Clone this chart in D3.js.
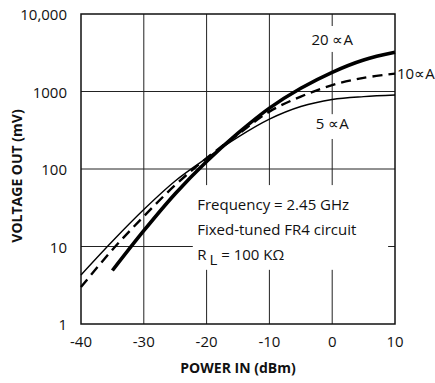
<!DOCTYPE html>
<html>
<head>
<meta charset="utf-8">
<script src="https://cdn.jsdelivr.net/npm/d3@7"></script>
<style>
  body { margin: 0; background: #fff; }
  text { font-family: "Open Sans", sans-serif; fill: #111; }
</style>
</head>
<body>
<div id="chart"></div>
<script>
// power in (dBm) for each series
var power = [-40, -35, -30, -25, -20, -15, -10, -5, 0, 5, 10];
var power20 = [-35, -30, -25, -20, -15, -10, -5, 0, 5, 10];

// voltage out (mV)
var bias5 = [4.3, 11.7, 30, 70, 138, 258, 440, 640, 790, 860, 900];
var bias10 = [3.0, 9.1, 24.5, 62, 138, 280, 550, 860, 1210, 1500, 1700];
var bias20 = [4.9, 16, 48, 125, 290, 610, 1100, 1770, 2550, 3200];

var xTicks = [-40, -30, -20, -10, 0, 10];
var yTicks = [1, 10, 100, 1000, 10000];
var yTickLabels = ["1", "10", "100", "1000", "10,000"];

var notes = ["Frequency = 2.45 GHz", "Fixed-tuned FR4 circuit"];

var width = 435, height = 383;
var margin = { top: 14, right: 40, bottom: 59, left: 81 };

var svg = d3.select("#chart").append("svg")
    .attr("width", width)
    .attr("height", height);

var x = d3.scaleLinear()
    .domain([-40, 10])
    .range([margin.left, width - margin.right]);

var y = d3.scaleLog()
    .domain([1, 10000])
    .range([height - margin.bottom, margin.top]);

// grid
var grid = svg.append("g").attr("stroke", "#222").attr("stroke-width", 1);
grid.selectAll(".vg")
    .data(xTicks.slice(1, -1))
    .enter().append("line")
    .attr("x1", d => x(d)).attr("x2", d => x(d))
    .attr("y1", y(10000)).attr("y2", y(1));
grid.selectAll(".hg")
    .data(yTicks.slice(1, -1))
    .enter().append("line")
    .attr("x1", x(-40)).attr("x2", x(10))
    .attr("y1", d => y(d)).attr("y2", d => y(d));

// gaps in the grid where the labels sit
var masks = svg.append("g").attr("fill", "#fff");
function mask(x0, x1, v0, v1) {
    masks.append("rect")
        .attr("x", x(x0)).attr("y", y(v0))
        .attr("width", x(x1) - x(x0)).attr("height", y(v1) - y(v0));
}
mask(-22.2, 8.9, 62, 5);
mask(-5, 5, 7000, 3240);
mask(-5, 5, 510, 244);

// frame
svg.append("rect")
    .attr("x", x(-40)).attr("y", y(10000))
    .attr("width", x(10) - x(-40)).attr("height", y(1) - y(10000))
    .attr("fill", "none").attr("stroke", "#111").attr("stroke-width", 1.5);

// curves
var line = d3.line()
    .x(d => x(d[0]))
    .y(d => y(d[1]))
    .curve(d3.curveCatmullRom.alpha(0.5));

svg.append("path")
    .datum(d3.zip(power, bias5))
    .attr("d", line)
    .attr("fill", "none").attr("stroke", "#000").attr("stroke-width", 1.4);

svg.append("path")
    .datum(d3.zip(power, bias10))
    .attr("d", line)
    .attr("fill", "none").attr("stroke", "#000").attr("stroke-width", 2.4)
    .attr("stroke-dasharray", "10,6");

svg.append("path")
    .datum(d3.zip(power20, bias20))
    .attr("d", line)
    .attr("fill", "none").attr("stroke", "#000").attr("stroke-width", 3.6);

// tick labels
svg.append("g").selectAll("text")
    .data(xTicks)
    .enter().append("text")
    .attr("x", d => x(d))
    .attr("y", y(1) + 23)
    .attr("text-anchor", "middle")
    .attr("font-size", 15)
    .text(d => d);

svg.append("g").selectAll("text")
    .data(yTicks)
    .enter().append("text")
    .attr("x", x(-40) - 14)
    .attr("y", d => y(d) + 6)
    .attr("text-anchor", "end")
    .attr("font-size", 15)
    .text((d, i) => yTickLabels[i]);

// axis titles
svg.append("text")
    .attr("x", (x(-40) + x(10)) / 2)
    .attr("y", 373)
    .attr("text-anchor", "middle")
    .attr("font-size", 14)
    .attr("font-weight", "bold")
    .text("POWER IN (dBm)");

svg.append("text")
    .attr("transform", "translate(22," + 176 + ") rotate(-90)")
    .attr("text-anchor", "middle")
    .attr("font-size", 14)
    .attr("font-weight", "bold")
    .text("VOLTAGE OUT (mV)");

// series labels
svg.append("text")
    .attr("x", x(0)).attr("y", y(3980))
    .attr("text-anchor", "middle").attr("font-size", 15)
    .text("20 \u221DA");
svg.append("text")
    .attr("x", x(0)).attr("y", y(330))
    .attr("text-anchor", "middle").attr("font-size", 15)
    .text("5 \u221DA");
svg.append("text")
    .attr("x", x(10) + 2).attr("y", y(1700) + 5)
    .attr("font-size", 15)
    .text("10\u221DA");

// conditions
var notesG = svg.append("g");
notesG.selectAll("text")
    .data(notes)
    .enter().append("text")
    .attr("x", x(-21.5))
    .attr("y", (d, i) => y(34) + 5 + i * 25)
    .attr("font-size", 15)
    .text(d => d);

var rl = notesG.append("text")
    .attr("x", x(-21.5))
    .attr("y", y(34) + 55)
    .attr("font-size", 15);
rl.append("tspan").text("R");
rl.append("tspan").attr("dx", 3).attr("dy", 5).text("L");
rl.append("tspan").attr("dy", -5).text(" = 100 K\u03A9");
</script>
</body>
</html>
